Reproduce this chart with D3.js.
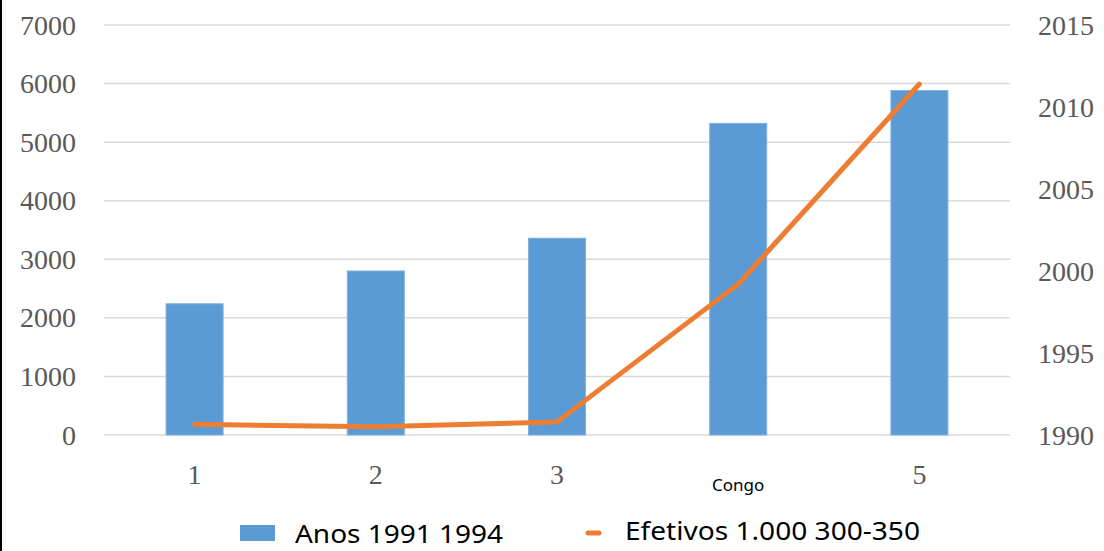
<!DOCTYPE html>
<html><head><meta charset="utf-8">
<script src="https://cdn.jsdelivr.net/npm/d3@7"></script>
<style>body{margin:0;background:#fff}svg{display:block}</style>
</head><body>
<script>
const categories = ["1", "2", "3", "Congo", "5"];
const barValues = [2240, 2800, 3360, 5320, 5880];
const lineValues = [1990.65, 1990.5, 1990.8, 1999.2, 2011.4];
const leftTicks = [0, 1000, 2000, 3000, 4000, 5000, 6000, 7000];
const rightTicks = [1990, 1995, 2000, 2005, 2010, 2015];
const barName = "Anos 1991 1994";
const lineName = "Efetivos 1.000 300-350";

const W = 1104, H = 551;
const svg = d3.select("body").append("svg").attr("width", W).attr("height", H);
svg.append("rect").attr("width", W).attr("height", H).attr("fill", "#fff");
svg.append("rect").attr("x", 0).attr("y", 0).attr("width", 2).attr("height", H).attr("fill", "#000");

const pLeft = 104, pRight = 1010, pTop = 25, pBottom = 435;
const xc = d3.scaleBand().domain(categories).range([pLeft, pRight]);
const y = d3.scaleLinear().domain([0, 7000]).range([pBottom, pTop]);
const y2 = d3.scaleLinear().domain([1990, 2015]).range([pBottom, pTop]);

// gridlines
svg.append("g").selectAll("line").data(leftTicks).join("line")
  .attr("x1", pLeft).attr("x2", pRight)
  .attr("y1", d => y(d)).attr("y2", d => y(d))
  .attr("stroke", "#d9d9d9").attr("stroke-width", 1.5);

// left axis labels
svg.append("g").selectAll("text").data(leftTicks).join("text")
  .attr("x", 76).attr("y", d => y(d)).attr("dy", "0.34em")
  .attr("text-anchor", "end")
  .attr("font-family", "Liberation Serif").attr("font-size", 28).attr("fill", "#595959")
  .text(d => d);

// right axis labels
svg.append("g").selectAll("text").data(rightTicks).join("text")
  .attr("x", 1038).attr("y", d => y2(d)).attr("dy", "0.34em")
  .attr("text-anchor", "start")
  .attr("font-family", "Liberation Serif").attr("font-size", 28).attr("fill", "#595959")
  .text(d => d);

// bars
const bw = 57;
svg.append("g").selectAll("rect").data(barValues).join("rect")
  .attr("x", (d, i) => xc(categories[i]) + xc.bandwidth() / 2 - bw / 2)
  .attr("width", bw)
  .attr("y", d => y(d)).attr("height", d => pBottom - y(d))
  .attr("fill", "#5b9bd5").attr("stroke", "#7fb0de").attr("stroke-width", 1);

// x labels
svg.append("g").selectAll("text").data(categories).join("text")
  .attr("x", d => xc(d) + xc.bandwidth() / 2)
  .attr("y", d => d === "Congo" ? 491 : 474)
  .attr("dy", d => d === "Congo" ? 0 : "0.34em")
  .attr("text-anchor", "middle")
  .attr("font-family", d => d === "Congo" ? "Noto Sans" : "Liberation Serif")
  .attr("font-size", d => d === "Congo" ? 17 : 28)
  .attr("fill", d => d === "Congo" ? "#000" : "#595959")
  .text(d => d);

// line
const line = d3.line()
  .x((d, i) => xc(categories[i]) + xc.bandwidth() / 2)
  .y(d => y2(d));
svg.append("path").datum(lineValues).attr("d", line)
  .attr("fill", "none").attr("stroke", "#ed7d31").attr("stroke-width", 5)
  .attr("stroke-linecap", "round").attr("stroke-linejoin", "round");

// legend
svg.append("rect").attr("x", 240).attr("y", 525).attr("width", 35).attr("height", 16).attr("fill", "#5b9bd5");
svg.append("text").attr("x", 295).attr("y", 543)
  .attr("font-family", "Noto Sans").attr("font-size", 25).attr("fill", "#000")
  .attr("textLength", 208).attr("lengthAdjust", "spacingAndGlyphs")
  .text(barName);
svg.append("line").attr("x1", 588).attr("x2", 599).attr("y1", 533).attr("y2", 533)
  .attr("stroke", "#ed7d31").attr("stroke-width", 5).attr("stroke-linecap", "round");
svg.append("text").attr("x", 625).attr("y", 540)
  .attr("font-family", "Noto Sans").attr("font-size", 26).attr("fill", "#000")
  .attr("textLength", 295).attr("lengthAdjust", "spacingAndGlyphs")
  .text(lineName);
</script>
</body></html>
